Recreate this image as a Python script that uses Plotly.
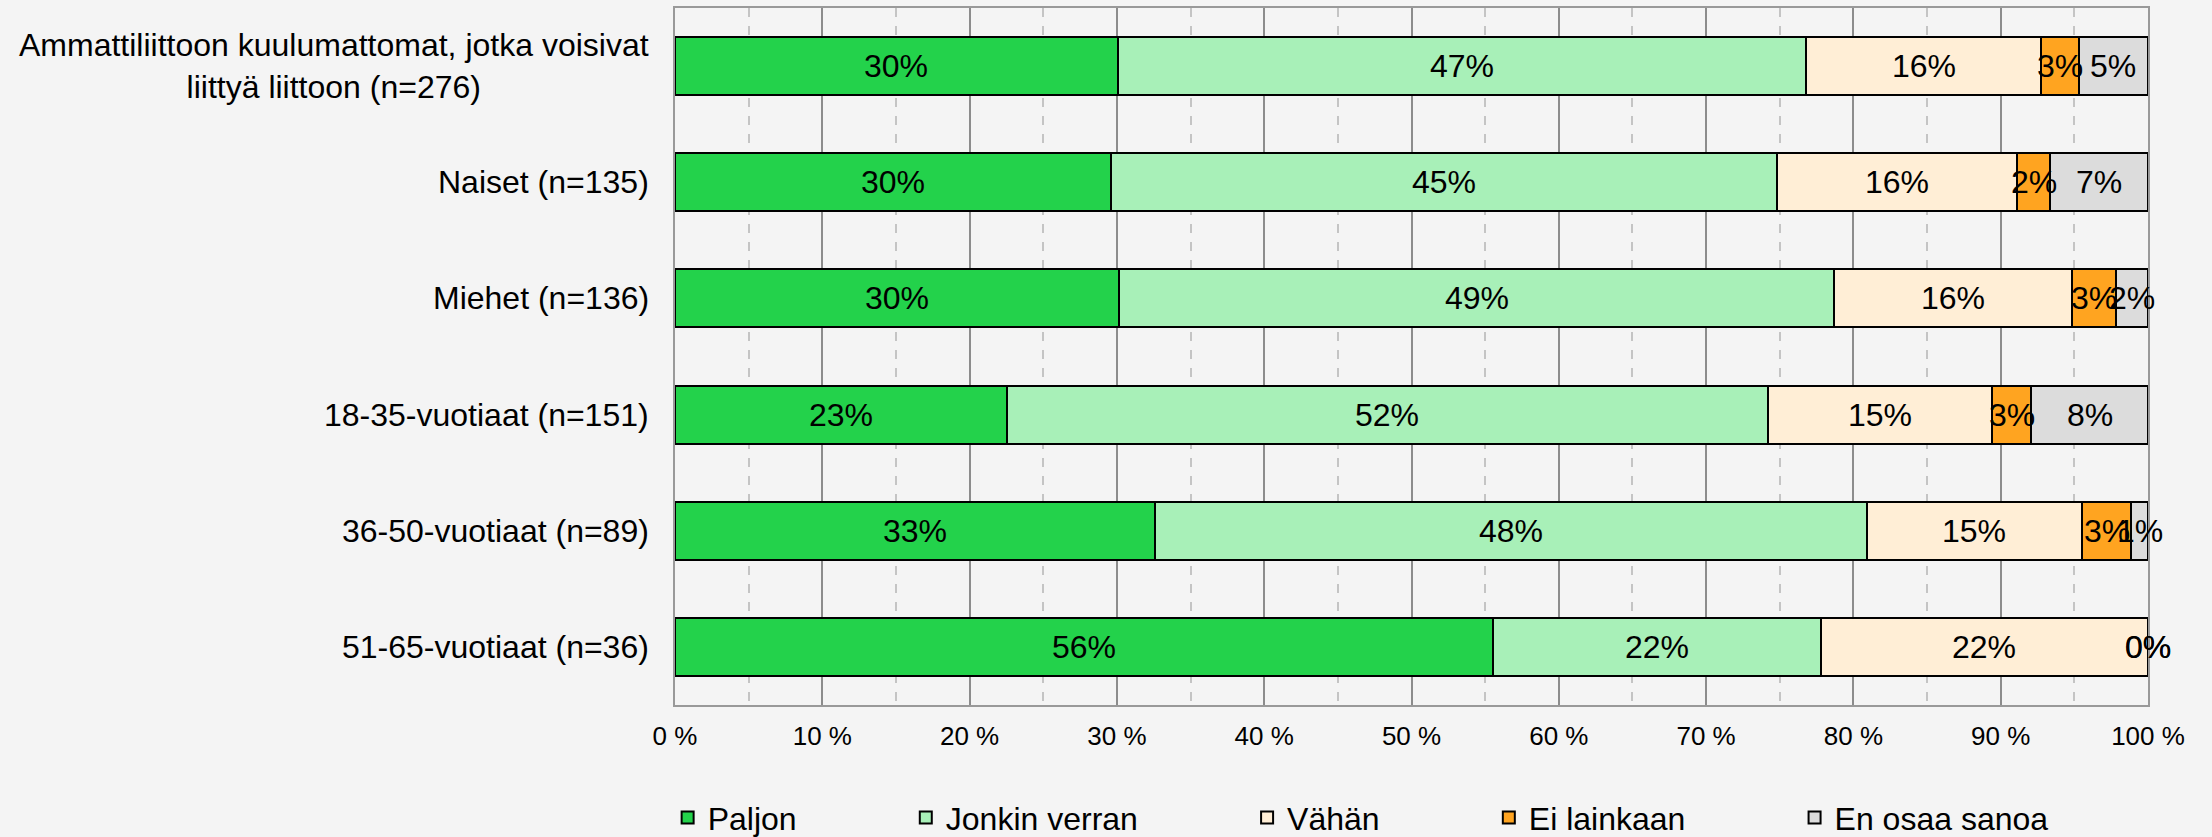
import plotly.graph_objects as go

categories = [
    "Ammattiliittoon kuulumattomat, jotka voisivat<br>liittyä liittoon (n=276)",
    "Naiset (n=135)",
    "Miehet (n=136)",
    "18-35-vuotiaat (n=151)",
    "36-50-vuotiaat (n=89)",
    "51-65-vuotiaat (n=36)",
]
series_names = ["Paljon", "Jonkin verran", "Vähän", "Ei lainkaan", "En osaa sanoa"]

# shares in percent
paljon = [30.07, 29.63, 30.15, 22.52, 32.58, 55.56]
jonkin_verran = [46.74, 45.19, 48.53, 51.66, 48.31, 22.22]
vahan = [15.94, 16.30, 16.18, 15.23, 14.61, 22.22]
ei_lainkaan = [2.54, 2.22, 2.94, 2.65, 3.37, 0.0]
en_osaa_sanoa = [4.71, 6.67, 2.21, 7.95, 1.12, 0.0]

series_values = [paljon, jonkin_verran, vahan, ei_lainkaan, en_osaa_sanoa]
colors = ["#23d24b", "#a8f0b8", "#ffeed6", "#ffa420", "#dcdcdc"]
PAD = "\u00a0" * 11 + "\u2009"  # trailing space to spread legend entries

FONT = "Liberation Sans, Arial, sans-serif"
BG = "#f4f4f4"

fig = go.Figure()
for name, vals, col in zip(series_names, series_values, colors):
    fig.add_trace(go.Bar(
        y=categories, x=vals, name=name + PAD, orientation="h",
        marker=dict(color=col, line=dict(color="black", width=2)),
        hoverinfo="x+y",
    ))

# value labels centred on each segment
annotations = []
for i, cat in enumerate(categories):
    start = 0.0
    for vals in series_values:
        v = vals[i]
        annotations.append(dict(
            x=start + v / 2, y=cat, xref="x", yref="y", text=f"{v:.0f}%",
            showarrow=False, font=dict(size=32, color="black", family=FONT),
        ))
        start += v

# category labels, centred lines like the original
for cat in categories:
    annotations.append(dict(
        x=0, y=cat, xref="paper", yref="y", text=cat, xanchor="right",
        align="center", xshift=-24, showarrow=False,
        font=dict(size=32, color="black", family=FONT),
    ))

fig.update_layout(
    width=2212, height=837,
    paper_bgcolor=BG, plot_bgcolor=BG,
    margin=dict(l=675, r=64, t=8, b=132, autoexpand=False),
    barmode="stack", bargap=0.5,
    font=dict(family=FONT, size=32, color="black"),
    annotations=annotations,
    xaxis=dict(
        range=[0, 100], tick0=0, dtick=10, ticksuffix=" %",
        tickfont=dict(size=26), ticks="", ticklabelstandoff=7,
        showgrid=True, gridcolor="#8c8c8c", gridwidth=1.5,
        minor=dict(dtick=5, showgrid=True, gridcolor="#c4c4c4",
                   griddash="dash", gridwidth=1.5),
        showline=True, linecolor="#999999", linewidth=2, mirror=True,
        zeroline=False,
    ),
    yaxis=dict(
        categoryorder="array", categoryarray=categories, autorange="reversed",
        showticklabels=False, showgrid=False, zeroline=False,
        showline=True, linecolor="#999999", linewidth=2, mirror=True,
    ),
    legend=dict(
        orientation="h", x=-0.005, xanchor="left", y=-0.201, yanchor="bottom",
        font=dict(size=32), bgcolor="rgba(0,0,0,0)", traceorder="normal",
    ),
)

fig.write_html("out.html", config={"displayModeBar": False},
               post_script="document.body.style.margin='0';")
